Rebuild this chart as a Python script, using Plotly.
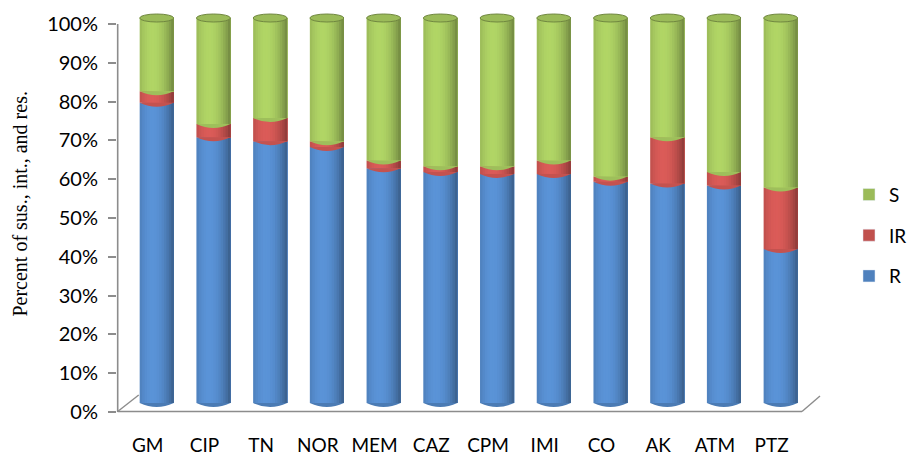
import plotly.graph_objects as go

# ---------------- data ----------------
categories = ["GM", "CIP", "TN", "NOR", "MEM", "CAZ", "CPM", "IMI", "CO", "AK", "ATM", "PTZ"]
R_values = [78, 69, 68, 66.5, 61, 60, 59.5, 59.5, 57.5, 57, 56.5, 40]
IR_values = [3, 3.5, 6, 1.5, 2, 1.5, 2, 3.5, 1.3, 12, 3.5, 16]
S_values = [round(100 - r - i, 2) for r, i in zip(R_values, IR_values)]
series_names = ["R", "IR", "S"]
series_colors = ["#4F81BD", "#C0504D", "#9BBB59"]
legend_rank = {"S": 1, "IR": 2, "R": 3}
y_ticks = list(range(0, 101, 10))
y_tick_labels = [f"{v}%" for v in y_ticks]
y_title = "Percent of sus., int., and res."

series_values = [R_values, IR_values, S_values]

# ---------------- helpers ----------------
def hex_rgb(h):
    h = h.lstrip("#")
    return tuple(int(h[i:i + 2], 16) for i in (0, 2, 4))


def shade(h, f):
    r, g, b = hex_rgb(h)
    c = [max(0, min(255, int(round(v * f)))) for v in (r, g, b)]
    return "rgb({},{},{})".format(*c)


def cyl_factor(t):
    tt = t + 0.25
    s = max(0.0, 1 - (tt / 1.25) ** 2)
    return 0.72 + 0.42 * s


BAR_W = 0.6
N_STRIPS = 14
strip_w = BAR_W / N_STRIPS
ELL = 1.04  # half-height of ellipse in bar-axis units

FONT = "Lato"
fig = go.Figure()

# legend entries
for name, col in zip(series_names, series_colors):
    fig.add_trace(go.Bar(x=categories, y=[None] * len(categories), name=name,
                         marker_color=col, legendgroup=name, showlegend=True,
                         legendrank=legend_rank[name], hoverinfo="skip"))

# cylinder strips (each strip runs to the right edge, later strips cover earlier ones)
bases = [[0] * len(categories)]
cum = [0] * len(categories)
for vals in series_values[:-1]:
    cum = [c + v for c, v in zip(cum, vals)]
    bases.append(cum[:])

for name, col, vals, base in zip(series_names, series_colors, series_values, bases):
    for k in range(N_STRIPS):
        off = -BAR_W / 2 + k * strip_w
        t = (off + strip_w / 2) / (BAR_W / 2)
        fig.add_trace(go.Bar(
            x=categories, y=vals, base=base, width=BAR_W - k * strip_w, offset=off,
            marker=dict(color=shade(col, cyl_factor(t)), line=dict(width=0)),
            showlegend=False, legendgroup=name, yaxis="y2", hoverinfo="skip"))

shapes = []
grey = "#8C8C8C"
# value axis line and floor
shapes.append(dict(type="line", xref="paper", yref="paper", x0=0.001, x1=0.001,
                   y0=0.0195, y1=0.9659, line=dict(color=grey, width=1.6)))
shapes.append(dict(type="line", xref="paper", yref="paper", x0=0.001, x1=0.9899,
                   y0=0.0207, y1=0.0207, line=dict(color=grey, width=1.6)))
shapes.append(dict(type="line", xref="paper", yref="paper", x0=0.001, x1=0.0314,
                   y0=0.0207, y1=0.061, line=dict(color=grey, width=1.4)))
shapes.append(dict(type="line", xref="paper", yref="paper", x0=0.9899, x1=1.0159,
                   y0=0.0207, y1=0.0585, line=dict(color=grey, width=1.4)))

for i in range(len(categories)):
    x0, x1 = i - BAR_W / 2, i + BAR_W / 2
    shapes.append(dict(type="path", xref="x", yref="y2",
                       path=f"M{x0},0 Q{i},{-2 * ELL} {x1},0 Z",
                       fillcolor=shade(series_colors[0], 0.95), line=dict(width=0)))
    for s_idx in (1, 2):
        b = bases[s_idx][i]
        shapes.append(dict(type="path", xref="x", yref="y2",
                           path=f"M{x0},{b} Q{i},{b - 2 * ELL} {x1},{b} Z",
                           fillcolor=shade(series_colors[s_idx], 1.02), line=dict(width=0)))
    shapes.append(dict(type="circle", xref="x", yref="y2", x0=x0, x1=x1,
                       y0=100 - ELL, y1=100 + ELL,
                       fillcolor=shade(series_colors[2], 1.0),
                       line=dict(color=shade(series_colors[2], 0.72), width=1)))

fig.update_layout(
    width=907, height=456,
    margin=dict(l=117.3, r=98, t=10, b=36, autoexpand=False),
    paper_bgcolor="white", plot_bgcolor="white",
    barmode="overlay",
    shapes=shapes,
    showlegend=True,
    legend=dict(x=1.0578, y=0.596, xanchor="left", yanchor="top",
                traceorder="grouped", tracegroupgap=13,
                font=dict(family=FONT, size=19, color="#000"),
                bgcolor="rgba(0,0,0,0)"),
    xaxis=dict(type="category", range=[-0.7, 11.5], showgrid=False, zeroline=False,
               showline=False, ticks="", tickfont=dict(family=FONT, size=19, color="#000"),
               ticklabelshift=-9, ticklabelstandoff=12),
    yaxis=dict(range=[-2.06, 103.6], tickvals=y_ticks, ticktext=y_tick_labels,
               ticks="outside", ticklen=8, tickwidth=1.6, tickcolor=grey,
               showgrid=False, zeroline=False, showline=False,
               tickfont=dict(family=FONT, size=20, color="#000"), ticklabelstandoff=6),
    yaxis2=dict(range=[-4.416, 102.08], overlaying="y", visible=False),
    annotations=[dict(text=y_title, xref="paper", yref="paper", x=-0.1407, y=0.527,
                      xanchor="center", yanchor="middle", textangle=-90, showarrow=False,
                      font=dict(family="Liberation Serif", size=20, color="#000"))],
)

fig.write_html("out.html", config={"displayModeBar": False},
               post_script="document.body.style.margin='0';document.body.style.overflow='hidden';")
